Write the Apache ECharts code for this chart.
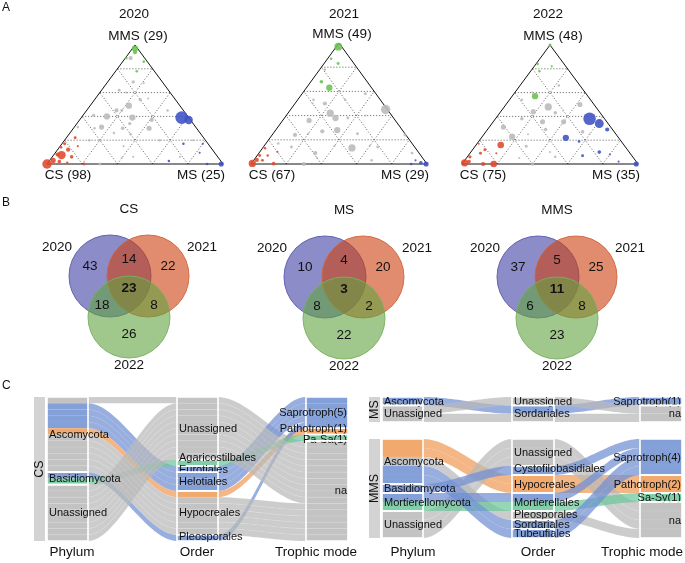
<!DOCTYPE html>
<html><head><meta charset="utf-8">
<script src="https://cdn.jsdelivr.net/npm/echarts@6/dist/echarts.min.js"></script>
<style>html,body{margin:0;padding:0;background:#fff}#c{width:685px;height:563px}</style>
</head><body><div id="c"></div>
<script>
// ================= DATA =================
// --- A: ternary plots. Points: [CS %, MS %, MMS %, relative abundance]
const ternYears = ['2020', '2021', '2022'];
const csCounts = [98, 67, 75];
const msCounts = [25, 29, 35];
const mmsCounts = [29, 49, 48];

const t20_cs = [[100,0,0,20],[88,4.5,7.5,16],[82,6,12,4],[73,5,22,2],[83,11,6,3],[79,21,0,2],[95,2,3,6],[85,1,14,1.5],[81.5,1.5,17,2],[75,10,15,1],[88,11,1,1.5],[92,6,2,3],[90,2,8,4]];
const t20_ms = [[4,57,39,36],[1,62,37,16],[1,99,0,6],[9,91,0,1.5],[14,69,17,1.5],[8.5,82,9.5,1],[29.5,68,2.5,1.5],[3,80,17,1]];
const t20_mms = [[1.5,1.5,97,9],[3,3,94,4],[10.5,0.5,89,2],[2,12,86,1.5],[10,12,78,1.5]];
const t20_gen = [[8,3,89,4],[16.5,14.5,69,2.5],[29,22,49,9],[46,14,40,9],[53.5,15.5,31,6],[32,29,39,9],[27,43,30,6],[22,41,37,4],[38,17,45,4],[20,26,54,2.5],[70,30,0,2],[67,2,31,1.5],[66,14,20,1.5],[26,54,20,1.5],[49,36,15,1],[21.5,72.5,6,1],[11,21,68,1],[28,10,62,2],[53,6,41,2],[49,25,26,1.5],[9,46,45,1.5],[7,73,20,1],[48,46,6,1],[60,20,20,1],[40,35,25,1.5],[35,20,45,2],[55,40,5,1],[15,30,55,1],[25,15,60,1],[42,28,30,3],[36,30,34,2.5],[58,12,30,1.5]];

const t21_cs = [[99,0.5,0.5,12],[95,1.6,3.4,4],[85.5,1.5,13,1.5],[87,12.7,0.3,3],[91.6,1.4,7,2],[87,6,7,1.5],[80,10,10,1],[92,5,3,2]];
const t21_ms = [[0.5,99.5,0,6],[3,96,1,3],[9,91,0,1.5],[5,92,3,1]];
const t21_mms = [[1.9,1.1,97,14],[24,13,63,9],[26,6,68,3],[9,8,83,2],[11,2,87,1.5],[19,3,78,1]];
const t21_gen = [[1,54,45,20],[34,24,42,12],[33,29,38,9],[49,15,36,6],[37,35,28,9],[36,50.7,13.3,12],[63,13,24,4],[59,32,9,4],[46,27,27,4],[26,36,38,2],[33,17,50,4],[70,30,0,4],[21,65,14,2],[27,48,25,2],[6,36,58,2],[4,87,9,2],[70,16,14,2],[0.5,75.5,24,2],[20,27,53,1.5],[38,9,53,1.5],[30,67,3,1.5],[76,7,17,1.5],[45,40,15,1],[55,20,25,1],[15,45,40,1],[60,35,5,1],[40,10,50,1],[25,60,15,1]];

const t22_cs = [[98,1,1,12],[82,18,0,10],[70,14,16,10],[88,12,0,4],[92.5,1.5,6,2.5],[85,6,9,2],[81,7,12,2],[82,1,17,1],[95,3,2,3],[76,15,9,1]];
const t22_ms = [[8.5,53.5,38,36],[5,61,34,18],[3,68,29,4],[30,48,22,9],[1,99,0,6],[17,73,10,3],[28,65,7,2],[24,57,19,1.5],[12,80,8,1],[10,88,2,1]];
const t22_mms = [[0,0,100,2],[30,13,57,9],[15,1,84,1.5],[17,5,78,1.5],[8,10,82,1]];
const t22_gen = [[27,25,48,12],[8,42,50,6],[37.5,18.5,44,6],[60,17,23,9],[61,8,31,6],[24.5,40,35.5,6],[36.5,28,35.5,6],[25.5,31.5,43,3],[47,15,38,3],[60,40,0,3],[18,55,27,3],[38,33,29,3],[56,29,15,2],[12,22,66,1.5],[39,7,54,1.5],[44,50,6,1.5],[45,45,10,1],[20,35,45,1],[50,25,25,1],[65,30,5,1],[30,10,60,1],[15,60,25,1]];

// --- B: Venn counts: [2020 only, 2021 only, 2022 only, 2020&2021, 2020&2022, 2021&2022, all]
const vennTitles = ['CS', 'MS', 'MMS'];
const vennSetNames = ['2020', '2021', '2022'];
const vennCS = [43, 22, 26, 14, 18, 8, 23];
const vennMS = [10, 20, 22, 4, 8, 2, 3];
const vennMMS = [37, 25, 23, 5, 6, 8, 11];

// --- C: alluvial plots. Alluvia: [Phylum, Order, Trophic mode, number of OTUs]
const axisNames = ['Phylum', 'Order', 'Trophic mode'];
const csPhylum = ['Ascomycota', 'Basidiomycota', 'Unassigned'];
const csOrder = ['Unassigned', 'Agaricostilbales', 'Eurotiales', 'Helotiales', 'Hypocreales', 'Pleosporales'];
const csTrophic = ['Saprotroph', 'Pathotroph', 'Pa-Sa', 'na'];
const csTrophicLabels = ['Saprotroph(5)', 'Pathotroph(1)', 'Pa-Sa(1)', 'na'];
const csAlluvia = [
  ['Ascomycota', 'Unassigned', 'na', 1],
  ['Ascomycota', 'Eurotiales', 'Saprotroph', 1],
  ['Ascomycota', 'Helotiales', 'Saprotroph', 3],
  ['Ascomycota', 'Hypocreales', 'Pathotroph', 1],
  ['Basidiomycota', 'Pleosporales', 'Saprotroph', 1],
  ['Basidiomycota', 'Agaricostilbales', 'Pa-Sa', 1],
  ['Unassigned', 'Unassigned', 'na', 9],
  ['Ascomycota', 'Hypocreales', 'na', 6]
];
const msPhylum = ['Ascomycota', 'Unassigned'];
const msOrder = ['Unassigned', 'Sordariales'];
const msTrophic = ['Saprotroph', 'na'];
const msTrophicLabels = ['Saprotroph(1)', 'na'];
const msAlluvia = [
  ['Ascomycota', 'Sordariales', 'Saprotroph', 1],
  ['Unassigned', 'Unassigned', 'na', 1],
  ['Unassigned', 'Sordariales', 'na', 1]
];
const mmsPhylum = ['Ascomycota', 'Basidiomycota', 'Mortierellomycota', 'Unassigned'];
const mmsOrder = ['Unassigned', 'Cystofilobasidiales', 'Hypocreales', 'Mortierellales', 'Pleosporales', 'Sordariales', 'Tubeufiales'];
const mmsTrophic = ['Saprotroph', 'Pathotroph', 'Sa-Sy', 'na'];
const mmsTrophicLabels = ['Saprotroph(4)', 'Pathotroph(2)', 'Sa-Sy(1)', 'na'];
const mmsAlluvia = [
  ['Ascomycota', 'Hypocreales', 'Pathotroph', 2],
  ['Unassigned', 'Unassigned', 'na', 3],
  ['Ascomycota', 'Pleosporales', 'na', 1],
  ['Basidiomycota', 'Cystofilobasidiales', 'Saprotroph', 1],
  ['Mortierellomycota', 'Mortierellales', 'Saprotroph', 1],
  ['Mortierellomycota', 'Mortierellales', 'Sa-Sy', 1],
  ['Ascomycota', 'Sordariales', 'Saprotroph', 1],
  ['Ascomycota', 'Tubeufiales', 'Saprotroph', 1]
];

// ================= LAYOUT / STYLE =================
const FONT = '"Liberation Sans", Arial, Helvetica, sans-serif';
const grids = [], xAxes = [], yAxes = [], series = [], graphics = [];
function addGrid(g, xr, yr, inv) {
  grids.push(Object.assign({ containLabel: false, show: false }, g));
  const i = grids.length - 1;
  xAxes.push({ type: 'value', gridIndex: i, min: xr[0], max: xr[1], show: false });
  yAxes.push({ type: 'value', gridIndex: i, min: yr[0], max: yr[1], inverse: !!inv, show: false });
  return i;
}
function textStyle(text, size, align, bold) {
  return { text: text, x: 0, y: 0, font: (bold ? 'bold ' : '') + size + 'px ' + FONT, fill: '#111',
           textAlign: align, align: align, textVerticalAlign: 'middle', verticalAlign: 'middle' };
}
function txt(x, y, text, size, align, rotation) {
  const el = { type: 'text', x: x, y: y, silent: true, z: 100, style: textStyle(text, size, align || 'center') };
  if (rotation) el.rotation = rotation;
  graphics.push(el);
}

// ---------- A: ternary ----------
txt(2, 8, 'A', 12, 'left');
const ternLayout = [{ left: 47, top: 45, w: 176, h: 119, tx: 134 }, { left: 251, top: 43, w: 176, h: 121, tx: 344 }, { left: 462, top: 45, w: 176, h: 119, tx: 548 }];
const ternSets = [[t20_gen, t20_cs, t20_ms, t20_mms], [t21_gen, t21_cs, t21_ms, t21_mms], [t22_gen, t22_cs, t22_ms, t22_mms]];
const ternColors = ['#b9b9b9', '#e0472b', '#3c50c4', '#68c24e'];
function toXY(p) { const s = p[0] + p[1] + p[2]; const ms = p[1] / s, mms = p[2] / s; return [ms + mms / 2, mms, p[3]]; }
ternYears.forEach((yr, i) => {
  const L = ternLayout[i];
  const gi = addGrid({ left: L.left, top: L.top, width: L.w, height: L.h }, [0, 1], [0, 1]);
  const segs = [];
  [0.2, 0.4, 0.6, 0.8].forEach(k => {
    segs.push([k / 2, k, 1 - k / 2, k]);
    segs.push([k, 0, k + (1 - k) / 2, 1 - k]);
    segs.push([1 - k, 0, (1 - k) / 2, 1 - k]);
  });
  series.push({ type: 'custom', xAxisIndex: gi, yAxisIndex: gi, silent: true, clip: false, z: 1, data: segs,
    renderItem: (p, api) => {
      const a = api.coord([api.value(0), api.value(1)]), b = api.coord([api.value(2), api.value(3)]);
      return { type: 'line', shape: { x1: a[0], y1: a[1], x2: b[0], y2: b[1] }, style: { stroke: '#333', lineWidth: 0.8, lineDash: [1, 2] } };
    } });
  series.push({ type: 'line', xAxisIndex: gi, yAxisIndex: gi, data: [[0, 0], [1, 0], [0.5, 1], [0, 0]], symbol: 'none', clip: false,
    lineStyle: { color: '#111', width: 1 }, silent: true, z: 2 });
  ternSets[i].forEach((arr, gk) => {
    series.push({ type: 'scatter', xAxisIndex: gi, yAxisIndex: gi, data: arr.map(toXY), clip: false, silent: true, z: 3 + gk,
      symbolSize: v => 2.1 * Math.sqrt(v[2]), itemStyle: { color: ternColors[gk], opacity: 0.88 } });
  });
  txt(L.tx, 14, yr, 13.5);
  txt(L.left + L.w / 2 + 3, L.top - 9, 'MMS (' + mmsCounts[i] + ')', 13.5);
  txt(L.left + 21, L.top + L.h + 11, 'CS (' + csCounts[i] + ')', 13.5);
  txt(L.left + L.w - 22, L.top + L.h + 11, 'MS (' + msCounts[i] + ')', 13.5);
});

// ---------- B: Venn ----------
txt(2, 203, 'B', 12, 'left');
const vennData = [vennCS, vennMS, vennMMS];
const vennCenters = [[129, 289], [344, 290], [557, 290]];
const vennCircleGeom = [[-19, 13], [19, 13], [0, -28]];
const vennR = 41;
const vennFill = ['rgba(63,63,163,0.6)', 'rgba(205,63,13,0.6)', 'rgba(97,163,63,0.6)'];
const vennStroke = ['rgba(90,90,175,0.9)', 'rgba(210,100,60,0.9)', 'rgba(120,175,95,0.9)'];
const regionOffsets = [[-39, 23], [39, 23], [0, -45], [0, 30], [-27, -16], [25, -16], [0, 1]];
vennData.forEach((counts, vi) => {
  const c = vennCenters[vi];
  const gi = addGrid({ left: c[0] - 100, top: c[1] - 100, width: 200, height: 200 }, [-100, 100], [-100, 100]);
  series.push({ type: 'custom', xAxisIndex: gi, yAxisIndex: gi, silent: true, clip: false, z: 2,
    data: vennSetNames.map((n, k) => [k]),
    renderItem: (p, api) => {
      const k = p.dataIndex, g = vennCircleGeom[k];
      const cc = api.coord(g), r = api.size([vennR, 0])[0];
      return { type: 'circle', shape: { cx: cc[0], cy: cc[1], r: r }, style: { fill: vennFill[k], stroke: vennStroke[k], lineWidth: 1 } };
    } });
  series.push({ type: 'custom', xAxisIndex: gi, yAxisIndex: gi, silent: true, clip: false, z: 5,
    data: counts.map((v, k) => [k, v]),
    renderItem: (p, api) => {
      const k = p.dataIndex, o = regionOffsets[k];
      const cc = api.coord(o);
      const st = textStyle(String(api.value(1)), 13.5, 'center', k === 6);
      st.x = cc[0]; st.y = cc[1];
      return { type: 'text', style: st };
    } });
  txt(c[0], c[1] - 80, vennTitles[vi], 13.5);
  txt(c[0] - 72, c[1] - 42, vennSetNames[0], 13.5);
  txt(c[0] + 73, c[1] - 42, vennSetNames[1], 13.5);
  txt(c[0], c[1] + 76, vennSetNames[2], 13.5);
});

// ---------- C: alluvial ----------
txt(2, 386, 'C', 12, 'left');
const troColor = { 'Saprotroph': '#6f8fd2', 'Pathotroph': '#ee9a55', 'Pa-Sa': '#6cc69a', 'Sa-Sy': '#6cc69a', 'na': '#b9b9b9' };
// small vertical label nudges (px) to keep neighbouring stratum labels apart
const labelNudge = { 'Agaricostilbales': -5, 'Pathotroph(1)': -3, 'Pa-Sa(1)': 2, 'Cystofilobasidiales': -2, 'Pleosporales': -1 };
function alluvial(box, axX, strataLists, trophicLabels, alluvia, stripName) {
  const units = [];
  alluvia.forEach(a => { for (let i = 0; i < a[3]; i++) units.push([a[0], a[1], a[2]]); });
  const gi = addGrid({ left: box.left, top: box.top, width: box.w, height: box.h }, [0, box.w], [0, units.length], true);
  const pos = units.map(() => [0, 0, 0]);
  const strata = [];
  for (let k = 0; k < 3; k++) {
    let y = 0;
    strataLists[k].forEach((s, si) => {
      const y0 = y;
      units.forEach((u, ui) => { if (u[k] === s) { pos[ui][k] = y; y++; } });
      strata.push({ k: k, name: k === 2 ? trophicLabels[si] : s, y0: y0, y1: y });
    });
  }
  series.push({ type: 'custom', xAxisIndex: gi, yAxisIndex: gi, silent: true, clip: false, z: 2,
    data: units.map((u, i) => [i]),
    renderItem: (p, api) => {
      const i = p.dataIndex, u = units[i], P = pos[i], col = troColor[u[2]], ch = [];
      const sep = u[2] === 'na' ? 'rgba(255,255,255,0.3)' : 'rgba(255,255,255,0.12)';
      for (let k = 0; k < 2; k++) {
        const a0 = api.coord([axX[k][1], P[k]]), a1 = api.coord([axX[k][1], P[k] + 1]);
        const b0 = api.coord([axX[k + 1][0], P[k + 1]]), b1 = api.coord([axX[k + 1][0], P[k + 1] + 1]);
        const pts = [], N = 28;
        for (let j = 0; j <= N; j++) { const t = j / N, s = t * t * (3 - 2 * t); pts.push([a0[0] + (b0[0] - a0[0]) * t, a0[1] + (b0[1] - a0[1]) * s]); }
        for (let j = N; j >= 0; j--) { const t = j / N, s = t * t * (3 - 2 * t); pts.push([a1[0] + (b1[0] - a1[0]) * t, a1[1] + (b1[1] - a1[1]) * s]); }
        ch.push({ type: 'polygon', shape: { points: pts }, style: { fill: col, opacity: 0.72, stroke: sep, lineWidth: 0.4 } });
      }
      for (let k = 0; k < 3; k++) {
        const a = api.coord([axX[k][0], P[k]]), b = api.coord([axX[k][1], P[k] + 1]);
        ch.push({ type: 'rect', shape: { x: a[0], y: a[1], width: b[0] - a[0], height: b[1] - a[1] }, style: { fill: col, opacity: 0.85, stroke: sep, lineWidth: 0.4 } });
      }
      return { type: 'group', children: ch };
    } });
  series.push({ type: 'custom', xAxisIndex: gi, yAxisIndex: gi, silent: true, clip: false, z: 3,
    data: strata.map((s, i) => [i]),
    renderItem: (p, api) => {
      const s = strata[p.dataIndex];
      const a = api.coord([axX[s.k][0], s.y0]), b = api.coord([axX[s.k][1], s.y1]);
      const right = s.k === 2;
      const st = textStyle(s.name, 11, right ? 'right' : 'left');
      st.x = right ? b[0] - 1 : a[0] + 2;
      st.y = (a[1] + b[1]) / 2 + 0.5 + (s.k > 0 && labelNudge[s.name] ? labelNudge[s.name] : 0);
      return { type: 'group', children: [
        { type: 'rect', shape: { x: a[0], y: a[1], width: b[0] - a[0], height: b[1] - a[1] }, style: { fill: 'none', stroke: '#fff', lineWidth: 1.6 } },
        { type: 'text', style: st }
      ] };
    } });
  // facet strip
  graphics.push({ type: 'rect', silent: true, z: 50, shape: { x: box.left - 13, y: box.top, width: 11, height: box.h }, style: { fill: '#d3d3d3' } });
  txt(box.left - 7.5, box.top + box.h / 2, stripName, 12.5, 'center', Math.PI / 2);
}
alluvial({ left: 47, top: 397, w: 301, h: 144 }, [[0, 41], [130, 171], [259, 301]], [csPhylum, csOrder, csTrophic], csTrophicLabels, csAlluvia, 'CS');
alluvial({ left: 382, top: 397, w: 300, h: 25 }, [[0, 41], [130, 172], [258, 300]], [msPhylum, msOrder, msTrophic], msTrophicLabels, msAlluvia, 'MS');
alluvial({ left: 382, top: 439, w: 300, h: 99 }, [[0, 41], [130, 172], [258, 300]], [mmsPhylum, mmsOrder, mmsTrophic], mmsTrophicLabels, mmsAlluvia, 'MMS');
[[72, 197, 316], [413, 538, 642]].forEach(xs => xs.forEach((x, k) => txt(x, 552, axisNames[k], 13.5)));

const chart = echarts.init(document.getElementById('c'), null, { renderer: 'canvas', width: 685, height: 563 });
chart.setOption({ animation: false, backgroundColor: '#fff', grid: grids, xAxis: xAxes, yAxis: yAxes, series: series, graphic: { elements: graphics } });
</script></body></html>
